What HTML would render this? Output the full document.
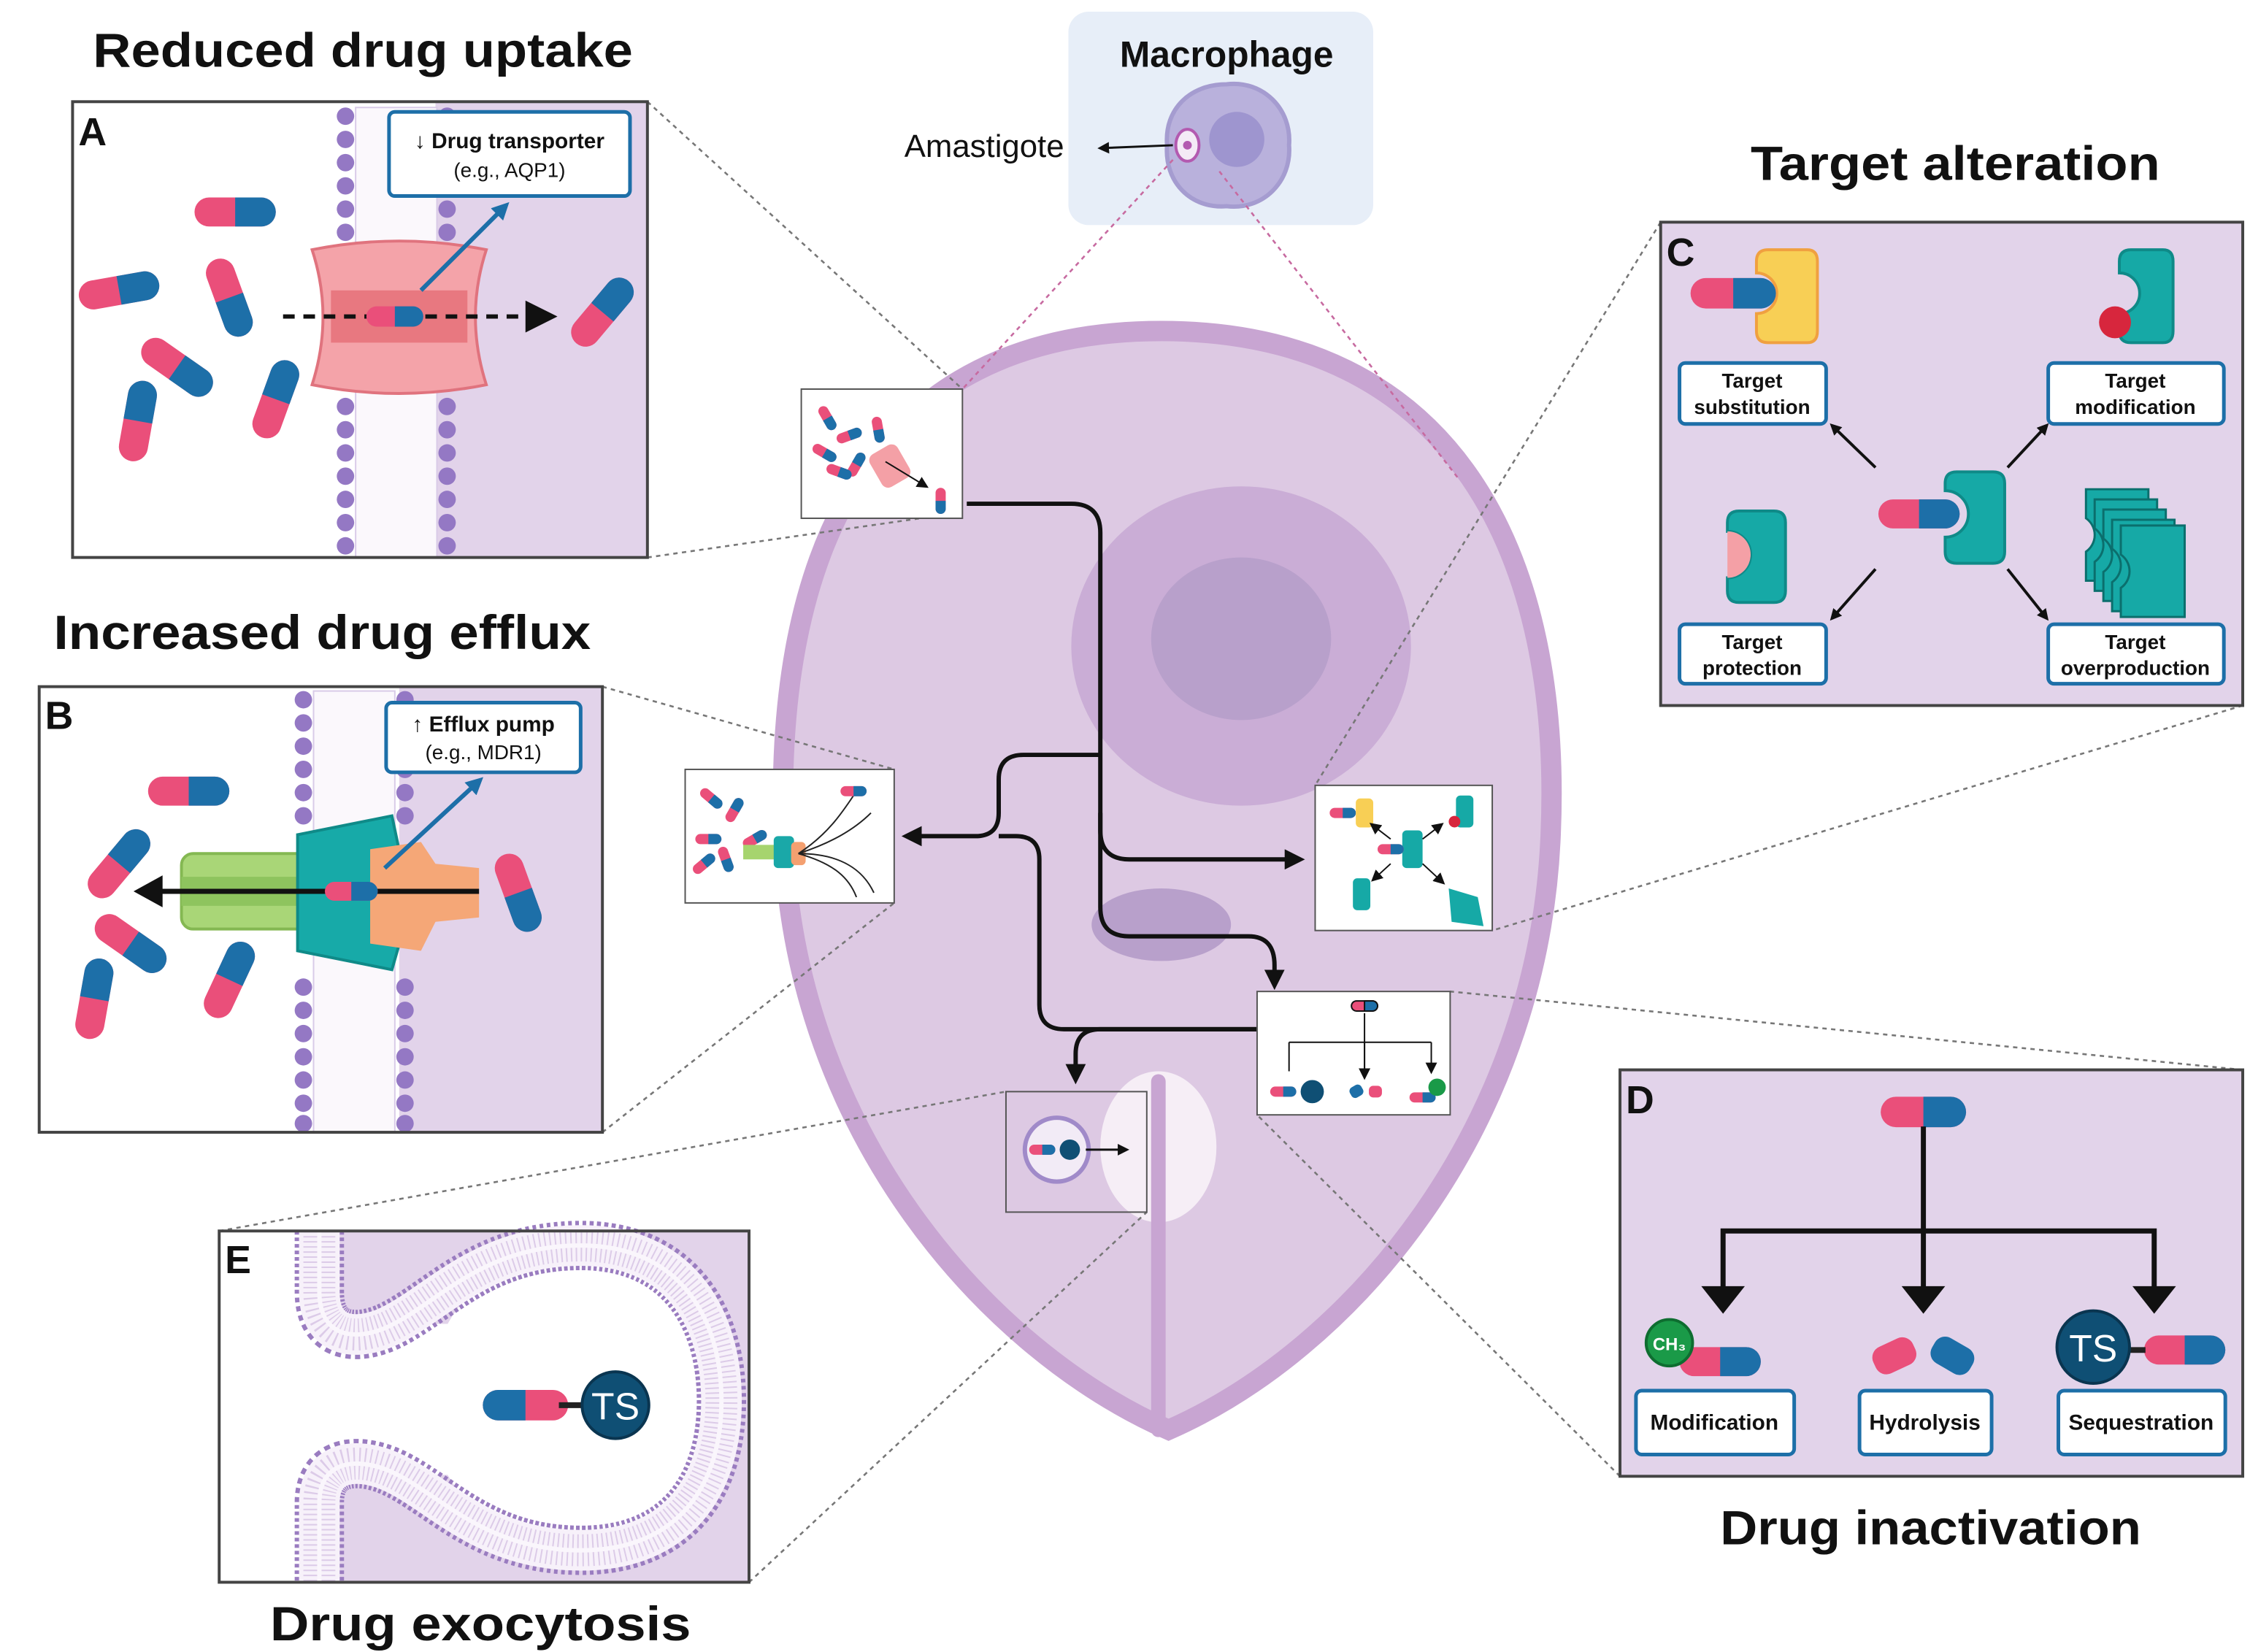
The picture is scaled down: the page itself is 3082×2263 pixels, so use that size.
<!DOCTYPE html>
<html><head><meta charset="utf-8"><style>
html,body{margin:0;padding:0;background:#fff;}
svg{display:block;}
text{font-family:"Liberation Sans",sans-serif;}
</style></head><body>
<svg width="3082" height="2263" viewBox="0 0 1550 1138" xmlns="http://www.w3.org/2000/svg">
<defs>
<g id="pill"><rect x="-28" y="-10" width="56" height="20" rx="10" fill="#ea4f7a"/><path d="M0 -10 H18 A10 10 0 0 1 18 10 H0Z" fill="#1d6fa8"/></g>
<g id="mpill"><rect x="-9" y="-3.5" width="18" height="7" rx="3.5" fill="#ea4f7a"/><path d="M0 -3.5 H5.5 A3.5 3.5 0 0 1 5.5 3.5 H0Z" fill="#1d6fa8"/></g>
<marker id="ah" markerWidth="8" markerHeight="8" refX="6" refY="4" orient="auto" markerUnits="userSpaceOnUse"><path d="M0 0 L8 4 L0 8Z" fill="#111"/></marker>
<marker id="ahb" markerWidth="14" markerHeight="14" refX="10" refY="7" orient="auto" markerUnits="userSpaceOnUse"><path d="M0 0 L14 7 L0 14Z" fill="#111"/></marker>
<marker id="ahbl" markerWidth="12" markerHeight="12" refX="8" refY="6" orient="auto" markerUnits="userSpaceOnUse"><path d="M0 0 L12 6 L0 12Z" fill="#1d6fa8"/></marker>
</defs>

<!-- Macrophage box -->
<rect x="736" y="8" width="210" height="147" rx="14" fill="#e7eef8"/>
<text x="845" y="46" font-size="25" font-weight="bold" text-anchor="middle" fill="#111">Macrophage</text>
<path d="M845 58 C870 55 890 75 888 100 C890 125 870 145 845 142 C820 144 802 125 804 100 C802 75 820 58 845 58Z" fill="#b9b1dc" stroke="#a59cd0" stroke-width="3"/>
<circle cx="852" cy="96" r="19" fill="#9e95cf"/>
<ellipse cx="818" cy="100" rx="8" ry="11" fill="#f4eaf6" stroke="#b35ab0" stroke-width="2"/>
<circle cx="818" cy="100" r="3" fill="#b35ab0"/>
<line x1="808" y1="100" x2="758" y2="102" stroke="#111" stroke-width="1.5" marker-end="url(#ah)"/>
<text x="623" y="108" font-size="22" fill="#111">Amastigote</text>

<!-- Cell -->
<path d="M800 228 C1000 228 1078 380 1068 580 C1058 780 930 930 805 985 C680 930 548 780 540 580 C532 380 600 228 800 228Z" fill="#ddc9e3" stroke="#c8a5d2" stroke-width="14"/>
<ellipse cx="855" cy="445" rx="117" ry="110" fill="#caadd6"/>
<ellipse cx="855" cy="440" rx="62" ry="56" fill="#b8a0cb"/>
<ellipse cx="800" cy="637" rx="48" ry="25" fill="#b8a0cb"/>
<ellipse cx="798" cy="790" rx="40" ry="52" fill="#f6eef6"/>
<line x1="798" y1="745" x2="798" y2="985" stroke="#c8a5d2" stroke-width="10" stroke-linecap="round"/>

<!-- pink dotted from macrophage -->
<line x1="808" y1="110" x2="663" y2="268" stroke="#c76aa0" stroke-width="1.3" stroke-dasharray="3 3"/>
<line x1="840" y1="118" x2="1005" y2="330" stroke="#c76aa0" stroke-width="1.3" stroke-dasharray="3 3"/>

<!-- gray dotted connectors -->
<g stroke="#777" stroke-width="1.3" stroke-dasharray="3 3" fill="none">
<line x1="446" y1="70" x2="663" y2="268"/>
<line x1="446" y1="384" x2="655" y2="354"/>
<line x1="415" y1="473" x2="616" y2="530"/>
<line x1="415" y1="780" x2="616" y2="622"/>
<line x1="1144" y1="153" x2="906" y2="541"/>
<line x1="1545" y1="486" x2="1028" y2="641"/>
<line x1="1545" y1="737" x2="999" y2="683"/>
<line x1="1116" y1="1017" x2="866" y2="768"/>
<line x1="151" y1="848" x2="693" y2="752"/>
<line x1="516" y1="1090" x2="790" y2="835"/>
</g>

<!-- arrows in cell -->
<g stroke="#111" stroke-width="3" fill="none">
<path d="M666 347 H738 Q758 347 758 367 V572 Q758 592 778 592 H895" marker-end="url(#ahb)"/>
<path d="M758 560 V625 Q758 645 778 645 H860 Q878 645 878 665 V678" marker-end="url(#ahb)"/>
<path d="M758 520 H705 Q688 520 688 537 V560 Q688 576 672 576 H625" marker-end="url(#ahb)"/>
<path d="M688 576 H700 Q716 576 716 592 V692 Q716 709 733 709 H866"/>
<path d="M866 709 H758 Q741 709 741 726 V743" marker-end="url(#ahb)"/>
</g>

<!-- small boxes -->
<rect x="552" y="268" width="111" height="89" fill="#fff" stroke="#555" stroke-width="1"/>
<g>
<use href="#mpill" transform="translate(570,288) rotate(60)"/><use href="#mpill" transform="translate(585,300) rotate(-20)"/>
<use href="#mpill" transform="translate(568,312) rotate(30)"/><use href="#mpill" transform="translate(590,320) rotate(-60)"/>
<use href="#mpill" transform="translate(605,296) rotate(80)"/><use href="#mpill" transform="translate(578,325) rotate(20)"/>
<rect x="602" y="308" width="22" height="26" rx="5" fill="#f4a0a6" transform="rotate(-30 613 321)"/>
<line x1="610" y1="318" x2="638" y2="335" stroke="#111" stroke-width="1" marker-end="url(#ah)"/>
<use href="#mpill" transform="translate(648,345) rotate(90)"/>
</g>
<rect x="472" y="530" width="144" height="92" fill="#fff" stroke="#555" stroke-width="1"/>
<g>
<use href="#mpill" transform="translate(490,550) rotate(40)"/><use href="#mpill" transform="translate(506,558) rotate(-60)"/>
<use href="#mpill" transform="translate(488,578) rotate(0)"/><use href="#mpill" transform="translate(500,592) rotate(70)"/>
<use href="#mpill" transform="translate(520,578) rotate(-30)"/><use href="#mpill" transform="translate(485,595) rotate(-40)"/>
<rect x="512" y="582" width="26" height="10" fill="#a6d46e"/>
<rect x="533" y="576" width="14" height="22" rx="3" fill="#1aa8a8"/>
<rect x="545" y="580" width="10" height="16" rx="3" fill="#f4a070"/>
<path d="M550 588 C570 575 580 560 588 548 M550 588 C575 580 590 570 600 560 M550 588 C580 588 595 600 602 615 M550 588 C575 595 585 605 590 618" stroke="#222" stroke-width="1" fill="none"/>
<use href="#mpill" transform="translate(588,545)"/>
</g>
<rect x="906" y="541" width="122" height="100" fill="#fff" stroke="#555" stroke-width="1"/>
<g>
<use href="#mpill" transform="translate(925,560)"/><rect x="934" y="550" width="12" height="20" rx="3" fill="#f8cf55"/>
<rect x="1003" y="548" width="12" height="22" rx="3" fill="#16a9a6"/><circle cx="1002" cy="566" r="4" fill="#d7263d"/>
<rect x="966" y="572" width="14" height="26" rx="3" fill="#16a9a6"/><use href="#mpill" transform="translate(958,585)"/>
<rect x="932" y="605" width="12" height="22" rx="3" fill="#16a9a6"/>
<path d="M998 612 L1018 618 L1022 638 L1000 635Z" fill="#16a9a6"/>
<g stroke="#111" stroke-width="1"><line x1="958" y1="578" x2="945" y2="568" marker-end="url(#ah)"/><line x1="980" y1="578" x2="993" y2="568" marker-end="url(#ah)"/><line x1="958" y1="595" x2="946" y2="606" marker-end="url(#ah)"/><line x1="980" y1="595" x2="994" y2="608" marker-end="url(#ah)"/></g>
</g>
<rect x="866" y="683" width="133" height="85" fill="#fff" stroke="#555" stroke-width="1"/>
<g stroke="#111" stroke-width="1" fill="none">
<use href="#mpill" transform="translate(940,693)"/>
<path d="M940 698 V740 M888 718 H986 M888 718 V738 M986 718 V738" marker-end="url(#ah)"/>
<line x1="940" y1="718" x2="940" y2="742" marker-end="url(#ah)"/>
</g>
<use href="#mpill" transform="translate(884,752)"/><circle cx="904" cy="752" r="8" fill="#0f4f74"/>
<rect x="930" y="748" width="9" height="8" rx="3" fill="#1d6fa8" transform="rotate(-30 934 752)"/><rect x="943" y="748" width="9" height="8" rx="3" fill="#ea4f7a"/>
<use href="#mpill" transform="translate(980,756)"/><circle cx="990" cy="749" r="6" fill="#1a9a48"/>
<rect x="693" y="752" width="97" height="83" fill="none" stroke="#555" stroke-width="1"/>
<circle cx="728" cy="792" r="22" fill="#f2ebf6" stroke="#a08ac9" stroke-width="3"/>
<use href="#mpill" transform="translate(718,792)"/><circle cx="737" cy="792" r="7" fill="#0f4f74"/>
<line x1="748" y1="792" x2="776" y2="792" stroke="#111" stroke-width="1.5" marker-end="url(#ah)"/>

<!-- Panel A -->
<text x="250" y="46" font-size="33" font-weight="bold" text-anchor="middle" fill="#111" textLength="372" lengthAdjust="spacingAndGlyphs">Reduced drug uptake</text>
<rect x="50" y="70" width="396" height="314" fill="#fff"/>
<rect x="300" y="70" width="146" height="314" fill="#e2d3ea"/>
<g fill="#9478c4">
<circle cx="238" cy="80" r="6"/><circle cx="238" cy="96" r="6"/><circle cx="238" cy="112" r="6"/><circle cx="238" cy="128" r="6"/><circle cx="238" cy="144" r="6"/><circle cx="238" cy="160" r="6"/><circle cx="238" cy="176" r="6"/><circle cx="238" cy="280" r="6"/><circle cx="238" cy="296" r="6"/><circle cx="238" cy="312" r="6"/><circle cx="238" cy="328" r="6"/><circle cx="238" cy="344" r="6"/><circle cx="238" cy="360" r="6"/><circle cx="238" cy="376" r="6"/>
<circle cx="308" cy="80" r="6"/><circle cx="308" cy="96" r="6"/><circle cx="308" cy="112" r="6"/><circle cx="308" cy="128" r="6"/><circle cx="308" cy="144" r="6"/><circle cx="308" cy="160" r="6"/><circle cx="308" cy="176" r="6"/><circle cx="308" cy="280" r="6"/><circle cx="308" cy="296" r="6"/><circle cx="308" cy="312" r="6"/><circle cx="308" cy="328" r="6"/><circle cx="308" cy="344" r="6"/><circle cx="308" cy="360" r="6"/><circle cx="308" cy="376" r="6"/>
</g>
<rect x="245" y="74" width="56" height="310" fill="#fbf8fc" stroke="#d9cbe8" stroke-width="1"/>
<path d="M215 172 Q275 160 335 172 Q320 218 335 265 Q275 277 215 265 Q230 218 215 172Z" fill="#f4a3a9" stroke="#e0737e" stroke-width="2"/>
<rect x="228" y="200" width="94" height="36" fill="#e87880"/>
<line x1="195" y1="218" x2="362" y2="218" stroke="#111" stroke-width="3" stroke-dasharray="8 6"/>
<path d="M362 207 L384 218 L362 229Z" fill="#111"/>
<use href="#pill" transform="translate(272,218) scale(0.7)"/>
<use href="#pill" transform="translate(162,146)"/>
<use href="#pill" transform="translate(82,200) rotate(-10)"/>
<use href="#pill" transform="translate(158,205) rotate(70)"/>
<use href="#pill" transform="translate(122,253) rotate(35)"/>
<use href="#pill" transform="translate(95,290) rotate(-80)"/>
<use href="#pill" transform="translate(190,275) rotate(-70)"/>
<use href="#pill" transform="translate(415,215) rotate(-50)"/>
<line x1="290" y1="200" x2="348" y2="142" stroke="#1d6fa8" stroke-width="3" marker-end="url(#ahbl)"/>
<rect x="268" y="77" width="166" height="58" rx="4" fill="#fff" stroke="#1d6fa8" stroke-width="2.5"/>
<text x="351" y="102" font-size="15" font-weight="bold" text-anchor="middle" fill="#111">↓ Drug transporter</text>
<text x="351" y="122" font-size="14" text-anchor="middle" fill="#111">(e.g., AQP1)</text>
<rect x="50" y="70" width="396" height="314" fill="none" stroke="#444" stroke-width="2"/>
<text x="54" y="100" font-size="27" font-weight="bold" fill="#111">A</text>

<!-- Panel B -->
<text x="222" y="447" font-size="33" font-weight="bold" text-anchor="middle" fill="#111" textLength="370" lengthAdjust="spacingAndGlyphs">Increased drug efflux</text>
<rect x="27" y="473" width="388" height="307" fill="#fff"/>
<rect x="275" y="473" width="140" height="307" fill="#e2d3ea"/>
<g fill="#9478c4">
<circle cx="209" cy="482" r="6"/><circle cx="209" cy="498" r="6"/><circle cx="209" cy="514" r="6"/><circle cx="209" cy="530" r="6"/><circle cx="209" cy="546" r="6"/><circle cx="209" cy="562" r="6"/><circle cx="209" cy="680" r="6"/><circle cx="209" cy="696" r="6"/><circle cx="209" cy="712" r="6"/><circle cx="209" cy="728" r="6"/><circle cx="209" cy="744" r="6"/><circle cx="209" cy="760" r="6"/><circle cx="209" cy="774" r="6"/>
<circle cx="279" cy="482" r="6"/><circle cx="279" cy="498" r="6"/><circle cx="279" cy="514" r="6"/><circle cx="279" cy="530" r="6"/><circle cx="279" cy="546" r="6"/><circle cx="279" cy="562" r="6"/><circle cx="279" cy="680" r="6"/><circle cx="279" cy="696" r="6"/><circle cx="279" cy="712" r="6"/><circle cx="279" cy="728" r="6"/><circle cx="279" cy="744" r="6"/><circle cx="279" cy="760" r="6"/><circle cx="279" cy="774" r="6"/>
</g>
<rect x="216" y="476" width="56" height="304" fill="#fbf8fc" stroke="#d9cbe8" stroke-width="1"/>
<rect x="125" y="588" width="110" height="52" rx="8" fill="#a9d677" stroke="#84b852" stroke-width="2"/>
<rect x="125" y="604" width="110" height="20" fill="#8ec45e"/>
<path d="M205 575 L270 562 L278 600 L262 610 L278 640 L270 668 L205 655Z" fill="#17aaa8" stroke="#0f8a88" stroke-width="2"/>
<path d="M255 585 L290 580 L300 595 L330 598 L330 632 L300 635 L290 655 L255 650Z" fill="#f5a777"/>
<line x1="330" y1="614" x2="108" y2="614" stroke="#111" stroke-width="3.5"/>
<path d="M112 603 L92 614 L112 625Z" fill="#111"/>
<use href="#pill" transform="translate(242,614) scale(0.65)"/>
<use href="#pill" transform="translate(130,545)"/>
<use href="#pill" transform="translate(82,595) rotate(-50)"/>
<use href="#pill" transform="translate(90,650) rotate(35)"/>
<use href="#pill" transform="translate(65,688) rotate(-80)"/>
<use href="#pill" transform="translate(158,675) rotate(-65)"/>
<use href="#pill" transform="translate(357,615) rotate(70)"/>
<line x1="265" y1="598" x2="330" y2="538" stroke="#1d6fa8" stroke-width="3" marker-end="url(#ahbl)"/>
<rect x="266" y="484" width="134" height="48" rx="4" fill="#fff" stroke="#1d6fa8" stroke-width="2.5"/>
<text x="333" y="504" font-size="15" font-weight="bold" text-anchor="middle" fill="#111">↑ Efflux pump</text>
<text x="333" y="523" font-size="14" text-anchor="middle" fill="#111">(e.g., MDR1)</text>
<rect x="27" y="473" width="388" height="307" fill="none" stroke="#444" stroke-width="2"/>
<text x="31" y="502" font-size="27" font-weight="bold" fill="#111">B</text>

<!-- Panel C -->
<text x="1347" y="124" font-size="33" font-weight="bold" text-anchor="middle" fill="#111" textLength="282" lengthAdjust="spacingAndGlyphs">Target alteration</text>
<rect x="1144" y="153" width="401" height="333" fill="#e2d3ea" stroke="#444" stroke-width="2"/>
<text x="1148" y="183" font-size="27" font-weight="bold" fill="#111">C</text>
<path d="M1218 172 H1245 Q1252 172 1252 180 V228 Q1252 236 1245 236 H1218 Q1210 236 1210 228 V216 A14 14 0 0 0 1210 188 V180 Q1210 172 1218 172Z" fill="#f8cf55" stroke="#f0a040" stroke-width="2"/>
<use href="#pill" transform="translate(1194,202) scale(1.05)"/>
<path d="M1468 172 H1490 Q1497 172 1497 180 V228 Q1497 236 1490 236 H1468 Q1460 236 1460 228 V216 A14 14 0 0 0 1460 188 V180 Q1460 172 1468 172Z" fill="#16a9a6" stroke="#0f8a88" stroke-width="2"/>
<circle cx="1457" cy="222" r="11" fill="#d7263d"/>
<path d="M1348 325 H1373 Q1381 325 1381 333 V380 Q1381 388 1373 388 H1348 Q1340 388 1340 380 V370 A16 16 0 0 0 1340 338 V333 Q1340 325 1348 325Z" fill="#16a9a6" stroke="#0f8a88" stroke-width="2"/>
<use href="#pill" transform="translate(1322,354)"/>
<path d="M1198 352 H1222 Q1230 352 1230 360 V407 Q1230 415 1222 415 H1198 Q1190 415 1190 407 V398 A16 16 0 0 0 1190 366 V360 Q1190 352 1198 352Z" fill="#16a9a6" stroke="#0f8a88" stroke-width="2"/>
<path d="M1190 366 A16 16 0 0 1 1190 398Z" fill="#f4a0a6"/>
<g fill="#16a9a6" stroke="#0b6f6d" stroke-width="1.5">
<path d="M1437 337 H1480 V400 H1437 V380 A14 14 0 0 0 1437 357Z"/>
<path d="M1443 344 H1486 V407 H1443 V387 A14 14 0 0 0 1443 364Z"/>
<path d="M1449 351 H1492 V414 H1449 V394 A14 14 0 0 0 1449 371Z"/>
<path d="M1455 358 H1498 V421 H1455 V401 A14 14 0 0 0 1455 378Z"/>
<path d="M1461 362 H1505 V425 H1461 V405 A14 14 0 0 0 1461 382Z"/>
</g>
<g stroke="#111" stroke-width="2">
<line x1="1292" y1="322" x2="1262" y2="293" marker-end="url(#ah)"/>
<line x1="1383" y1="322" x2="1410" y2="293" marker-end="url(#ah)"/>
<line x1="1292" y1="392" x2="1262" y2="426" marker-end="url(#ah)"/>
<line x1="1383" y1="392" x2="1410" y2="426" marker-end="url(#ah)"/>
</g>
<g fill="#fff" stroke="#1d6fa8" stroke-width="2.5">
<rect x="1157" y="250" width="101" height="42" rx="4"/><rect x="1411" y="250" width="121" height="42" rx="4"/>
<rect x="1157" y="430" width="101" height="41" rx="4"/><rect x="1411" y="430" width="121" height="41" rx="4"/>
</g>
<g font-size="14" font-weight="bold" text-anchor="middle" fill="#111">
<text x="1207" y="267">Target</text><text x="1207" y="285">substitution</text>
<text x="1471" y="267">Target</text><text x="1471" y="285">modification</text>
<text x="1207" y="447">Target</text><text x="1207" y="465">protection</text>
<text x="1471" y="447">Target</text><text x="1471" y="465">overproduction</text>
</g>

<!-- Panel D -->
<rect x="1116" y="737" width="429" height="280" fill="#e2d3ea" stroke="#444" stroke-width="2"/>
<text x="1120" y="767" font-size="27" font-weight="bold" fill="#111">D</text>
<use href="#pill" transform="translate(1325,766) scale(1.05)"/>
<g stroke="#111" stroke-width="3.5" fill="none">
<path d="M1325 776 V848 M1187 890 V848 H1484 V890 M1325 848 V890"/>
</g>
<path d="M1172 886 L1187 905 L1202 886Z" fill="#111"/>
<path d="M1310 886 L1325 905 L1340 886Z" fill="#111"/>
<path d="M1469 886 L1484 905 L1499 886Z" fill="#111"/>
<use href="#pill" transform="translate(1185,938)"/>
<circle cx="1150" cy="925" r="16" fill="#1a9a48" stroke="#0e6d30" stroke-width="2"/>
<text x="1150" y="930" font-size="12" font-weight="bold" text-anchor="middle" fill="#fff">CH₃</text>
<rect x="1290" y="924" width="30" height="20" rx="8" fill="#ea4f7a" transform="rotate(-25 1305 934)"/>
<rect x="1330" y="924" width="30" height="20" rx="8" fill="#1d6fa8" transform="rotate(30 1345 934)"/>
<use href="#pill" transform="translate(1505,930)"/>
<line x1="1460" y1="930" x2="1478" y2="930" stroke="#222" stroke-width="4"/>
<circle cx="1442" cy="928" r="25" fill="#0f4f74" stroke="#0a3550" stroke-width="2"/>
<text x="1442" y="938" font-size="26" text-anchor="middle" fill="#fff">TS</text>
<g fill="#fff" stroke="#1d6fa8" stroke-width="2.5">
<rect x="1127" y="958" width="109" height="44" rx="4"/><rect x="1281" y="958" width="91" height="44" rx="4"/><rect x="1418" y="958" width="115" height="44" rx="4"/>
</g>
<g font-size="15" font-weight="bold" text-anchor="middle" fill="#111">
<text x="1181" y="985">Modification</text><text x="1326" y="985">Hydrolysis</text><text x="1475" y="985">Sequestration</text>
</g>
<text x="1330" y="1064" font-size="33" font-weight="bold" text-anchor="middle" fill="#111" textLength="290" lengthAdjust="spacingAndGlyphs">Drug inactivation</text>

<!-- Panel E -->
<rect x="151" y="848" width="365" height="242" fill="#e2d3ea"/>
<rect x="151" y="848" width="70" height="242" fill="#fff"/>
<ellipse cx="395" cy="964" rx="100" ry="104" fill="#fff"/>
<rect x="220" y="912" width="120" height="104" fill="#fff"/>
<g fill="none">
<path d="M220 848 V890 C220 918 240 925 265 915 C300 900 330 858 400 858 C470 858 497 910 497 965 C497 1020 470 1068 400 1068 C330 1068 300 1025 265 1012 C240 1003 220 1010 220 1035 V1090" stroke="#9a7cc0" stroke-width="34" stroke-dasharray="2.5 2"/>
<path d="M220 848 V890 C220 918 240 925 265 915 C300 900 330 858 400 858 C470 858 497 910 497 965 C497 1020 470 1068 400 1068 C330 1068 300 1025 265 1012 C240 1003 220 1010 220 1035 V1090" stroke="#f7f1fa" stroke-width="28"/>
<path d="M220 848 V890 C220 918 240 925 265 915 C300 900 330 858 400 858 C470 858 497 910 497 965 C497 1020 470 1068 400 1068 C330 1068 300 1025 265 1012 C240 1003 220 1010 220 1035 V1090" stroke="#dccbe8" stroke-width="22" stroke-dasharray="1 2.5"/>
<path d="M220 848 V890 C220 918 240 925 265 915 C300 900 330 858 400 858 C470 858 497 910 497 965 C497 1020 470 1068 400 1068 C330 1068 300 1025 265 1012 C240 1003 220 1010 220 1035 V1090" stroke="#faf6fc" stroke-width="3"/>
</g>
<use href="#pill" transform="translate(362,968) scale(-1.05,1.05)"/>
<line x1="385" y1="968" x2="405" y2="968" stroke="#222" stroke-width="4"/>
<circle cx="424" cy="968" r="23" fill="#0f4f74" stroke="#0a3550" stroke-width="2"/>
<text x="424" y="978" font-size="26" text-anchor="middle" fill="#fff">TS</text>
<rect x="151" y="848" width="365" height="242" fill="none" stroke="#444" stroke-width="2"/>
<text x="155" y="877" font-size="27" font-weight="bold" fill="#111">E</text>
<text x="331" y="1130" font-size="33" font-weight="bold" text-anchor="middle" fill="#111" textLength="290" lengthAdjust="spacingAndGlyphs">Drug exocytosis</text>
</svg>
</body></html>
